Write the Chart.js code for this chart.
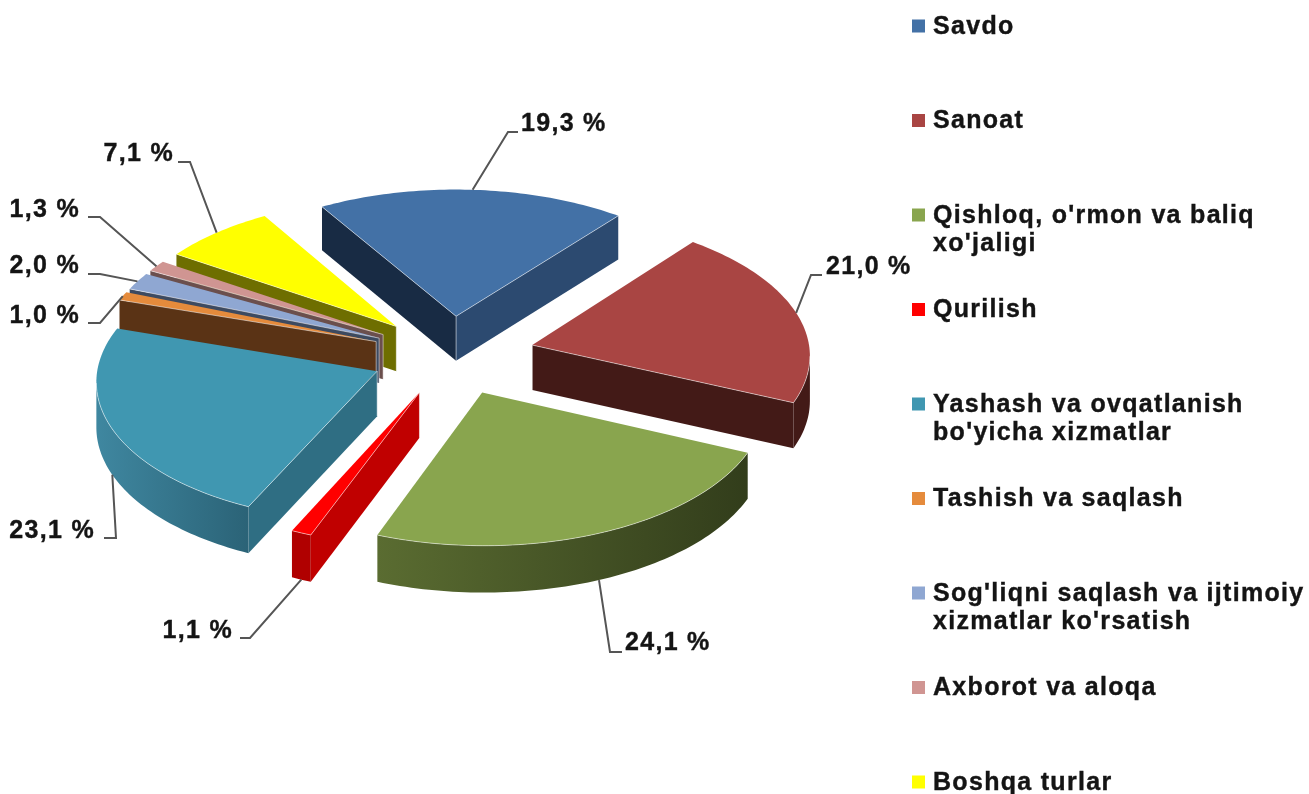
<!DOCTYPE html>
<html>
<head>
<meta charset="utf-8">
<style>
html,body{margin:0;padding:0;background:#fff;overflow:hidden}
canvas{display:block;filter:blur(0.55px)}
</style>
<script src="https://cdn.jsdelivr.net/npm/chart.js@4"></script>
</head>
<body>
<canvas id="c" width="1309" height="794"></canvas>
<script>
// ---- data ----
const categories = ["Savdo","Sanoat","Qishloq, o'rmon va baliq xo'jaligi","Qurilish","Yashash va ovqatlanish bo'yicha xizmatlar","Tashish va saqlash","Sog'liqni saqlash va ijtimoiy xizmatlar ko'rsatish","Axborot va aloqa","Boshqa turlar"];
const values = [19.3,21.0,24.1,1.1,23.1,1.0,2.0,1.3,7.1];
const legendLines = [["Savdo"],["Sanoat"],["Qishloq, o'rmon va baliq","xo'jaligi"],["Qurilish"],["Yashash va ovqatlanish","bo'yicha xizmatlar"],["Tashish va saqlash"],["Sog'liqni saqlash va ijtimoiy","xizmatlar ko'rsatish"],["Axborot va aloqa"],["Boshqa turlar"]];
// ---- style ----
const topColors = ["#4371A6","#A94543","#89A54E","#FF0000","#4097B1","#E58B3C","#8FA7D2","#D09592","#FFFF00"];
const startWall = ["#182B44","#431A17","#3A4620","#C00000","#2F6E83","#5A3315","#3D4A60","#6B4F4D","#6E6E00"];
const endWall   = ["#2C4A70","#431A17","#3A4620","#C00000","#2F6E83","#5A3315","#8A8A92","#8A7A80","#6E6E00"];
const rimLeft   = ["#2C4A70","#431A17","#5A6C31","#B00000","#3F87A0","#5A3315","#3D4A60","#6B4F4D","#6E6E00"];
const rimRight  = ["#2C4A70","#431A17","#323D1B","#B00000","#2B6377","#5A3315","#3D4A60","#6B4F4D","#6E6E00"];
const explode   = [79,84,80,80,80,80,80,80,80];
// layout of the percent labels: text anchor [x, centre y], leader elbow points
const labelAlign = ["left","left","left","right","right","right","right","right","right"];
const labelPos = [[521,124],[826,267],[625,643],[233,631],[95,531],[80,316],[80,266],[80,210],[174,154]];
const elbows = [[[508,132],[518,132]],[[811,275],[822,275]],[[610,652],[622,652]],[[250,638],[240,638]],[[116,538],[104,538]],[[100,323],[88,323]],[[100,274],[88,274]],[[100,217],[88,217]],[[190,162],[178,162]]];
const anchorFrom = ["top","top","bottom","bottom","bottom","top","top","top","top"];

const CX=451, CY=355, K=0.5, PERSP=0.00022, WALL=45, RADIUS=278;
const W=1309, H=794;

function project(arc,px,py,down){
  const u=px-arc.x, v=py-arc.y, s=1/(1-PERSP*v);
  return [CX+u*s, CY+K*v*s+(down?WALL*Math.sqrt(s):0)];
}
function poly(ctx,pts,fill){
  ctx.beginPath();
  pts.forEach((p,i)=>i?ctx.lineTo(p[0],p[1]):ctx.moveTo(p[0],p[1]));
  ctx.closePath();
  ctx.fillStyle=fill; ctx.fill();
}
const pie3d={
  id:'pie3d',
  beforeDatasetDraw(chart){
    const ctx=chart.ctx, arcs=chart.getDatasetMeta(0).data;
    const order=arcs.map((a,i)=>i).sort((i,j)=>
      Math.sin((arcs[i].startAngle+arcs[i].endAngle)/2)-Math.sin((arcs[j].startAngle+arcs[j].endAngle)/2));
    order.forEach(i=>{
      const a=arcs[i], mid=(a.startAngle+a.endAngle)/2, off=a.options.offset/4;
      const ox=a.x+Math.cos(mid)*off, oy=a.y+Math.sin(mid)*off, R=a.outerRadius;
      const at=(ang,r,down)=>project(a,ox+Math.cos(ang)*r,oy+Math.sin(ang)*r,down);
      const T=at(0,0,false), Tb=at(0,0,true);
      const Ps=at(a.startAngle,R,false), Psb=at(a.startAngle,R,true);
      const Pe=at(a.endAngle,R,false), Peb=at(a.endAngle,R,true);
      const M=at(mid,R*0.5,false);
      const faces=(P)=>{ // wall shows when the top face lies above its edge
        const dx=P[0]-T[0]; if(Math.abs(dx)<1e-6) return false;
        return T[1]+(P[1]-T[1])*(M[0]-T[0])/dx>M[1];
      };
      if(faces(Ps)) poly(ctx,[T,Ps,Psb,Tb],startWall[i]);
      if(faces(Pe)) poly(ctx,[T,Pe,Peb,Tb],endWall[i]);
      // outer rim, one shape for the part that faces the viewer
      const n=Math.max(4,Math.ceil((a.endAngle-a.startAngle)/0.02));
      const top=[],bot=[];
      for(let k=0;k<=n;k++){const g=a.startAngle+(a.endAngle-a.startAngle)*k/n;top.push(at(g,R,false));bot.push(at(g,R,true));}
      const xs=top.map(p=>p[0]);
      const grad=ctx.createLinearGradient(Math.min(...xs),0,Math.max(...xs),0);
      grad.addColorStop(0,rimLeft[i]); grad.addColorStop(1,rimRight[i]);
      const runT=[],runB=[];
      for(let k=0;k<n;k++){
        if(top[k+1][0]<top[k][0]){
          if(!runT.length){runT.push(top[k]);runB.push(bot[k]);}
          runT.push(top[k+1]);runB.push(bot[k+1]);
        }
      }
      if(runT.length) poly(ctx,[...runT,...runB.reverse()],grad);
      // top face
      poly(ctx,[T,...top],a.options.backgroundColor);
      // pale highlight on edges shared with visible walls
      ctx.strokeStyle='rgba(255,255,255,0.5)'; ctx.lineWidth=1;
      ctx.beginPath();
      if(faces(Ps)){ctx.moveTo(T[0],T[1]);ctx.lineTo(Ps[0],Ps[1]);}
      if(faces(Pe)){ctx.moveTo(T[0],T[1]);ctx.lineTo(Pe[0],Pe[1]);}
      if(faces(Ps)||faces(Pe)){ctx.moveTo(T[0],T[1]);ctx.lineTo(Tb[0],Tb[1]);}
      if(runT.length){runT.forEach((p,k)=>k?ctx.lineTo(p[0],p[1]):ctx.moveTo(p[0],p[1]));}
      ctx.stroke();
    });
    return false;
  },
  afterDraw(chart){
    const ctx=chart.ctx, arcs=chart.getDatasetMeta(0).data;
    ctx.save();
    const label=(t,x,y)=>{ctx.strokeText(t,x,y);ctx.fillText(t,x,y);};
    ctx.font='bold 25px "Liberation Sans"';
    ctx.letterSpacing='1.3px';
    ctx.textBaseline='middle';
    // leader lines and percent labels
    arcs.forEach((a,i)=>{
      const mid=(a.startAngle+a.endAngle)/2, off=a.options.offset/4;
      const p=project(a,a.x+Math.cos(mid)*(off+a.outerRadius),a.y+Math.sin(mid)*(off+a.outerRadius),anchorFrom[i]==='bottom');
      ctx.beginPath();ctx.moveTo(p[0],p[1]);
      elbows[i].forEach(e=>ctx.lineTo(e[0],e[1]));
      ctx.strokeStyle='#555';ctx.lineWidth=2;ctx.stroke();
      ctx.fillStyle='#141414';ctx.strokeStyle='#141414';ctx.lineWidth=0.4;
      ctx.textAlign=labelAlign[i];
      label(values[i].toFixed(1).replace('.',',')+' %',labelPos[i][0],labelPos[i][1]);
    });
    // legend
    ctx.textAlign='left';
    legendLines.forEach((lines,i)=>{
      const y=26+94.5*i;
      ctx.fillStyle=topColors[i];
      ctx.fillRect(912,y-6.5,13,13);
      ctx.fillStyle='#141414';
      lines.forEach((t,j)=>label(t,933,y+1+j*28));
    });
    ctx.restore();
  }
};
new Chart(document.getElementById('c'),{
  type:'pie',
  data:{labels:categories,datasets:[{data:values,backgroundColor:topColors,borderWidth:0,offset:explode.map(e=>e*4)}]},
  options:{
    responsive:false,animation:false,rotation:-31,radius:RADIUS,
    layout:{padding:{left:0,right:W-2*CX,top:0,bottom:H-2*CY}},
    plugins:{legend:{display:false},tooltip:{enabled:false}}
  },
  plugins:[pie3d]
});
</script>
</body>
</html>
